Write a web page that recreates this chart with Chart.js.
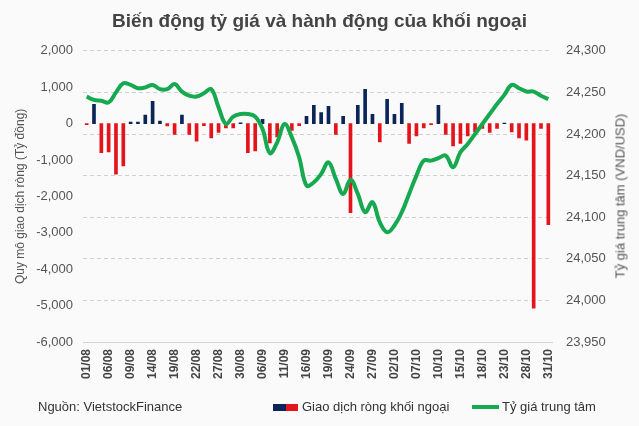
<!DOCTYPE html>
<html>
<head>
<meta charset="utf-8">
<script src="https://cdn.jsdelivr.net/npm/chart.js@4.4.1/dist/chart.umd.min.js"></script>
<style>
  html, body { margin: 0; padding: 0; background: #fafafa; }
  body { font-family: 'Liberation Sans', Arial, sans-serif; }
  #wrap { position: relative; width: 639px; height: 426px; background: #fafafa; }
  #chart { position: absolute; left: 0; top: 0; }
  .note { position: absolute; font-size: 13px; color: #333; white-space: nowrap; line-height: 16px; }
  .axis-title { position: absolute; font-size: 13px; color: #555; white-space: nowrap;
    transform: translate(-50%, -50%) rotate(-90deg); }
  .sw { position: absolute; }
</style>
</head>
<body>
<div id="wrap">
  <canvas id="chart" width="639" height="426"></canvas>
  <div class="axis-title" style="left:620px; top:196px;">Tỷ giá trung tâm (VND/USD)</div>
  <div class="note" style="left:38px; top:399px;">Nguồn: VietstockFinance</div>
  <div class="sw" style="left:273px; top:404px; width:13px; height:7px; background:#0b2559;"></div>
  <div class="sw" style="left:286px; top:404px; width:12px; height:7px; background:#e3141c;"></div>
  <div class="note" style="left:302px; top:399px;">Giao dịch ròng khối ngoại</div>
  <div class="sw" style="left:472px; top:405px; width:27px; height:4px; background:#16a950;"></div>
  <div class="note" style="left:502px; top:399px;">Tỷ giá trung tâm</div>
</div>
<script>
// trading days 01/08 - 31/10
const days = [
  '01/08', '02/08', '05/08', '06/08', '07/08', '08/08', '09/08', '12/08', '13/08', '14/08', '15/08',
  '16/08', '19/08', '20/08', '21/08', '22/08', '23/08', '26/08', '27/08', '28/08', '29/08', '30/08',
  '04/09', '05/09', '06/09', '09/09', '10/09', '11/09', '12/09', '13/09', '16/09', '17/09', '18/09',
  '19/09', '20/09', '23/09', '24/09', '25/09', '26/09', '27/09', '30/09',
  '01/10', '02/10', '03/10', '04/10', '07/10', '08/10', '09/10', '10/10', '11/10', '14/10', '15/10',
  '16/10', '17/10', '18/10', '21/10', '22/10', '23/10', '24/10', '25/10', '28/10', '29/10', '30/10', '31/10'
];

// net foreign trading (ty dong)
const netFlow = [
  -30, 530, -800, -780, -1390, -1160, 45, 45, 235, 610, 70,
  -65, -300, 235, -300, -485, -55, -395, -240, -120, -120, 20,
  -800, -750, 115, -530, -365, -50, -185, -55, 200, 500, 305,
  475, -300, 200, -2450, 500, 940, 255, -500,
  665, 255, 555, -545, -340, -120, -30, 500, -300, -610, -545,
  -340, -230, -135, -245, -135, 15, -230, -395, -455, -5070, -135, -2780
];

// central rate (VND/USD)
const rate = [
  24245, 24241, 24240, 24238, 24250, 24261, 24259, 24255, 24256, 24259, 24254,
  24254, 24260, 24251, 24246, 24245, 24249, 24254, 24232, 24212, 24221, 24224,
  24224, 24221, 24206, 24177, 24190, 24212, 24196, 24172, 24138, 24142, 24152,
  24166, 24146, 24128, 24145, 24128, 24106, 24118, 24094,
  24082, 24090, 24106, 24128, 24150, 24168, 24168, 24171, 24174, 24160, 24178,
  24188, 24200, 24212, 24224, 24236, 24247, 24259, 24255, 24251, 24251, 24246, 24242
];

const leftTicks = { min: -6000, max: 2000, step: 1000 };
const rightTicks = { min: 23950, max: 24300, step: 50 };

const navy = '#0b2559';
const red = '#e3141c';
const green = '#16a950';

Chart.defaults.font.family = "'Liberation Sans', Arial, sans-serif";
Chart.defaults.color = '#555';

new Chart(document.getElementById('chart'), {
  data: {
    labels: days,
    datasets: [
      {
        type: 'line',
        label: 'Tỷ giá trung tâm',
        data: rate,
        yAxisID: 'y1',
        borderColor: green,
        borderWidth: 4,
        pointRadius: 0,
        tension: 0.4,
        order: 0
      },
      {
        type: 'bar',
        label: 'Giao dịch ròng khối ngoại',
        data: netFlow,
        yAxisID: 'y',
        backgroundColor: function (ctx) {
          return ctx.raw >= 0 ? navy : red;
        },
        barThickness: 3,
        order: 1
      }
    ]
  },
  options: {
    responsive: false,
    animation: false,
    layout: { padding: 0 },
    plugins: {
      legend: { display: false },
      tooltip: { enabled: false },
      title: {
        display: true,
        text: 'Biến động tỷ giá và hành động của khối ngoại',
        color: '#444',
        font: { size: 19, weight: 'bold' },
        padding: { top: 10, bottom: 18 }
      }
    },
    scales: {
      x: {
        grid: { display: false, drawTicks: false },
        border: { display: true, color: '#d4d4d4' },
        ticks: {
          autoSkip: false,
          maxRotation: 90,
          minRotation: 90,
          padding: 7,
          color: '#444',
          font: { size: 12, weight: 'bold' },
          callback: function (v, i) {
            return i % 3 === 0 ? days[i] : '';
          }
        },
        afterFit: function (s) { s.height = 84; }
      },
      y: {
        position: 'left',
        min: leftTicks.min,
        max: leftTicks.max,
        grid: { display: false, drawTicks: false },
        border: { display: false },
        ticks: {
          stepSize: leftTicks.step,
          padding: 10,
          font: { size: 13 },
          callback: function (v) { return v.toLocaleString('en-US'); }
        },
        title: {
          display: true,
          text: 'Quy mô giao dịch ròng (Tỷ đồng)',
          font: { size: 12 },
          padding: { top: 13, bottom: 0 }
        },
        afterFit: function (s) { s.width = 83; }
      },
      y1: {
        position: 'right',
        min: rightTicks.min,
        max: rightTicks.max,
        grid: { color: '#d0d0d0', drawTicks: false },
        border: { display: false, dash: [4, 3] },
        ticks: {
          stepSize: rightTicks.step,
          padding: 14,
          font: { size: 13 },
          callback: function (v) { return v.toLocaleString('en-US'); }
        },
        afterFit: function (s) { s.width = 87; }
      }
    }
  }
});
</script>
</body>
</html>
